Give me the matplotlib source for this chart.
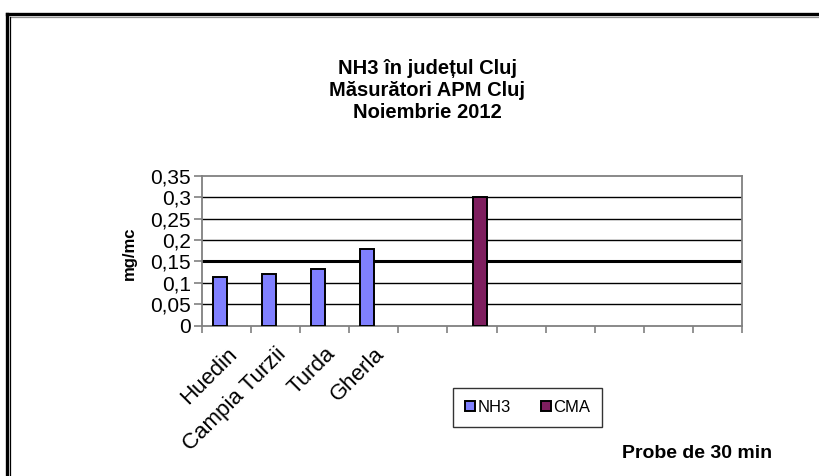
import numpy as np
import matplotlib
matplotlib.use("Agg")
import matplotlib.pyplot as plt
from matplotlib.lines import Line2D

plt.rcParams['font.family'] = ['Liberation Sans', 'DejaVu Sans']

# date (11 categorii, doar primele 4 au nume)
categorii = ["Huedin", "Campia Turzii", "Turda", "Gherla", "", "", "", "", "", "", ""]
nh3 = [0.113, 0.12, 0.133, 0.18, np.nan, np.nan, np.nan, np.nan, np.nan, np.nan, np.nan]
cma = [np.nan, np.nan, np.nan, np.nan, np.nan, 0.30, np.nan, np.nan, np.nan, np.nan, np.nan]
yticks = [0, 0.05, 0.1, 0.15, 0.2, 0.25, 0.3, 0.35]
ytick_labels = ["0", "0,05", "0,1", "0,15", "0,2", "0,25", "0,3", "0,35"]
titlu = ["NH3 în județul Cluj", "Măsurători APM Cluj", "Noiembrie 2012"]

W, H = 819, 476
fig = plt.figure(figsize=(W / 100, H / 100), dpi=100)
ax = fig.add_axes([202 / W, 1 - 325.5 / H, 540 / W, 149.5 / H])

x = np.arange(len(categorii))
bw = 0.29
ax.bar(x - 0.14, nh3, bw, color="#8080ff", edgecolor="black", linewidth=1.4, label="NH3", zorder=3)
ax.bar(x + 0.16, cma, bw, color="#7f1f5f", edgecolor="black", linewidth=1.4, label="CMA", zorder=3)

ax.set_xlim(-0.5, len(categorii) - 0.5)
ax.set_ylim(0, 0.35)
ax.set_yticks(yticks)
ax.set_yticklabels(ytick_labels, fontsize=15)
for yv in yticks[1:-1]:
    ax.axhline(yv, color="black", lw=2.2 if yv == 0.15 else 1.0, zorder=1)

ax.set_xticks(np.arange(len(categorii) + 1) - 0.5, minor=False)
ax.set_xticklabels([])
ax.set_xticks(x, minor=True)
ax.set_xticklabels(categorii, minor=True, rotation=45, ha="right", rotation_mode="anchor", fontsize=16)
ax.tick_params(axis="x", which="minor", length=0, pad=13)
ax.tick_params(axis="x", which="major", length=5, color="#808080", width=1.2)
ax.tick_params(axis="y", length=6, color="#808080", width=1.2, pad=2)
for s in ax.spines.values():
    s.set_color("#808080")
    s.set_linewidth(1.3)

ax.set_ylabel("mg/mc", fontsize=12, fontweight="bold")
ax.yaxis.set_label_coords((137 - 202) / 540, 0.48)

for i, t in enumerate(titlu):
    fig.text(427 / W, 1 - (69 + 21.5 * i) / H, t, ha="center", va="center",
             fontsize=14.5, fontweight="bold")

fig.text(697 / W, 1 - 454 / H, "Probe de 30 min", ha="center", va="center",
         fontsize=14, fontweight="bold")

leg = fig.legend(loc="center", bbox_to_anchor=(527.5 / W, 1 - 407.5 / H), ncol=2,
                 fontsize=12, handlelength=0.6, handleheight=0.6, handletextpad=0.15,
                 columnspacing=1.8, fancybox=False, borderpad=0.7)
leg.get_frame().set_edgecolor("black")
leg.get_frame().set_linewidth(1.0)

# rama exterioara
fig.add_artist(Line2D([7.3 / W, 1], [1 - 14 / H, 1 - 14 / H], color="black", lw=2.4, transform=fig.transFigure))
fig.add_artist(Line2D([7.3 / W, 7.3 / W], [0, 1 - 14 / H], color="black", lw=2.4, transform=fig.transFigure))
fig.add_artist(Line2D([10 / W, 1], [1 - 16.5 / H, 1 - 16.5 / H], color="#909090", lw=0.9, transform=fig.transFigure))
fig.add_artist(Line2D([10 / W, 10 / W], [0, 1 - 16.5 / H], color="black", lw=0.9, transform=fig.transFigure))

fig.savefig("out.png", dpi=100)
